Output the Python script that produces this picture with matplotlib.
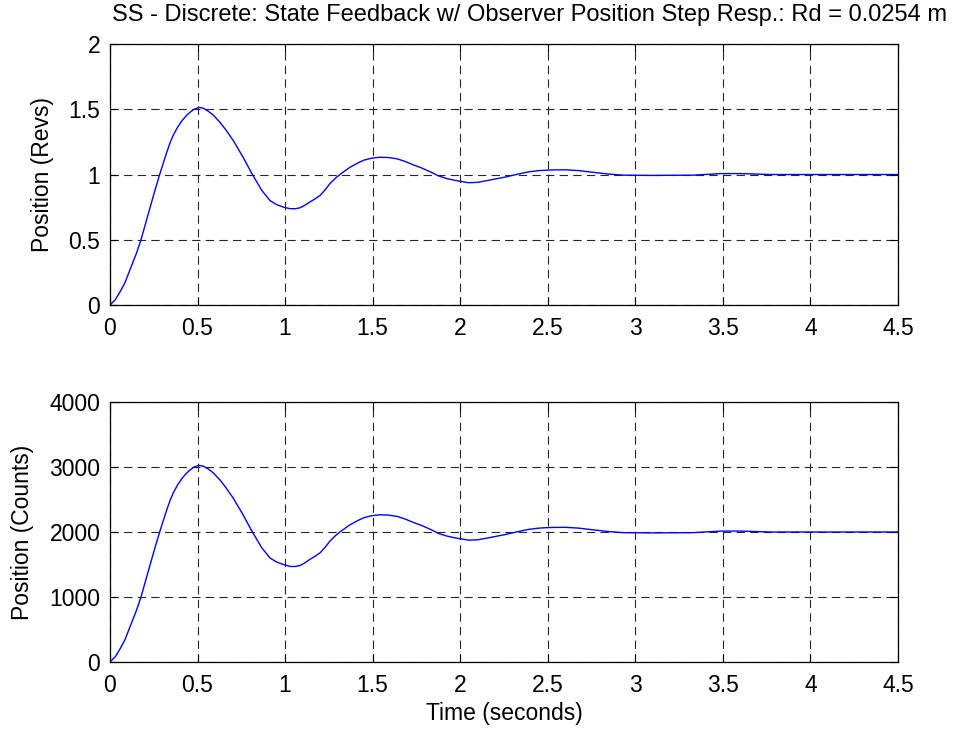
import matplotlib
matplotlib.use("Agg")
import matplotlib.pyplot as plt

plt.rcParams['font.family'] = ['Liberation Sans', 'DejaVu Sans']
plt.rcParams['lines.scale_dashes'] = False

title = "SS - Discrete: State Feedback w/ Observer Position Step Resp.: Rd = 0.0254 m"
xlabel = "Time (seconds)"
ylabel_top = "Position (Revs)"
ylabel_bot = "Position (Counts)"

time_s = [0, 0.03, 0.057, 0.085, 0.114, 0.152, 0.177, 0.219, 0.257, 0.286, 0.324,
          0.345, 0.361, 0.385, 0.41, 0.435, 0.457, 0.48, 0.51, 0.535, 0.561, 0.59,
          0.628, 0.66, 0.704, 0.761, 0.809, 0.866, 0.914, 0.95, 0.99, 1.028,
          1.06, 1.085, 1.11, 1.142, 1.17, 1.2, 1.23, 1.256, 1.29, 1.323,
          1.37, 1.418, 1.45, 1.494, 1.54, 1.59, 1.64, 1.685, 1.73, 1.78,
          1.83, 1.875, 1.92, 1.97, 2.047, 2.1, 2.16, 2.256, 2.32, 2.39,
          2.45, 2.52, 2.6, 2.675, 2.77, 2.85, 2.93, 3.1, 3.33, 3.49,
          3.6, 3.77, 4.0, 4.5]
pos_revs = [0, 0.04, 0.10, 0.17, 0.27, 0.40, 0.50, 0.70, 0.88, 1.01, 1.17,
            1.25, 1.30, 1.36, 1.41, 1.45, 1.477, 1.50, 1.515, 1.507, 1.485, 1.455,
            1.40, 1.345, 1.26, 1.13, 1.01, 0.88, 0.80, 0.77, 0.75, 0.738,
            0.738, 0.745, 0.762, 0.79, 0.812, 0.84, 0.885, 0.93, 0.975, 1.01,
            1.055, 1.09, 1.11, 1.125, 1.132, 1.13, 1.12, 1.10, 1.075, 1.05,
            1.02, 0.99, 0.97, 0.955, 0.937, 0.94, 0.955, 0.98, 1.0, 1.02,
            1.03, 1.035, 1.036, 1.03, 1.015, 1.003, 0.995, 0.993, 0.995, 1.007,
            1.007, 1.0, 1.0, 1.0]
pos_counts = [0, 80, 200, 340, 540, 800, 1000, 1400, 1760, 2020, 2340,
              2500, 2600, 2720, 2820, 2900, 2954, 3000, 3025, 3010, 2970, 2910,
              2800, 2690, 2520, 2260, 2020, 1760, 1600, 1540, 1500, 1470,
              1470, 1485, 1520, 1580, 1625, 1680, 1770, 1860, 1950, 2020,
              2110, 2180, 2220, 2250, 2265, 2260, 2240, 2200, 2150, 2100,
              2040, 1980, 1940, 1910, 1875, 1880, 1910, 1960, 2000, 2040,
              2060, 2070, 2072, 2060, 2030, 2006, 1990, 1986, 1990, 2014,
              2014, 2000, 2000, 2000]

xticks = [0, 0.5, 1, 1.5, 2, 2.5, 3, 3.5, 4, 4.5]
xticklabels = ["0", "0.5", "1", "1.5", "2", "2.5", "3", "3.5", "4", "4.5"]
yticks_top = [0, 0.5, 1, 1.5, 2]
yticklabels_top = ["0", "0.5", "1", "1.5", "2"]
yticks_bot = [0, 1000, 2000, 3000, 4000]
yticklabels_bot = ["0", "1000", "2000", "3000", "4000"]

FS = 16.5
W, H = 956, 733
fig = plt.figure(figsize=(W / 100, H / 100), dpi=100)

def px_axes(left, top, right, bottom):
    return fig.add_axes([left / W, 1 - bottom / H, (right - left) / W, (bottom - top) / H])

ax1 = px_axes(110, 44, 898, 305)
ax2 = px_axes(110, 402, 898, 662)

for ax, y, yt, ytl, ylab, ylim, labx in [
    (ax1, pos_revs, yticks_top, yticklabels_top, ylabel_top, (0, 2), 54),
    (ax2, pos_counts, yticks_bot, yticklabels_bot, ylabel_bot, (0, 4000), 34),
]:
    ax.plot(time_s, y, color='#0000ff', lw=1.0)
    ax.set_xlim(0, 4.5)
    ax.set_ylim(*ylim)
    ax.set_xticks(xticks)
    ax.set_xticklabels(xticklabels)
    ax.set_yticks(yt)
    ax.set_yticklabels(ytl)
    ax.grid(True, color='#262626', linestyle=(0, (6, 3.8)), linewidth=0.8)
    ax.tick_params(direction='in', length=6, width=0.8, top=True, right=True,
                   labelsize=FS, colors='black')
    ax.tick_params(axis='x', pad=8.5)
    ax.tick_params(axis='y', pad=7)
    for s in ax.spines.values():
        s.set_linewidth(0.9)
        s.set_color('black')
    ax.set_ylabel(ylab, fontsize=FS)
    ax.yaxis.set_label_coords((labx - 110) / 788, 0.5)

ax2.set_xlabel(xlabel, fontsize=FS, labelpad=4)
fig.text(529 / W, 1 - 15 / H, title, ha='center', va='center', fontsize=FS + 0.5)

fig.savefig("out.png", dpi=100)
